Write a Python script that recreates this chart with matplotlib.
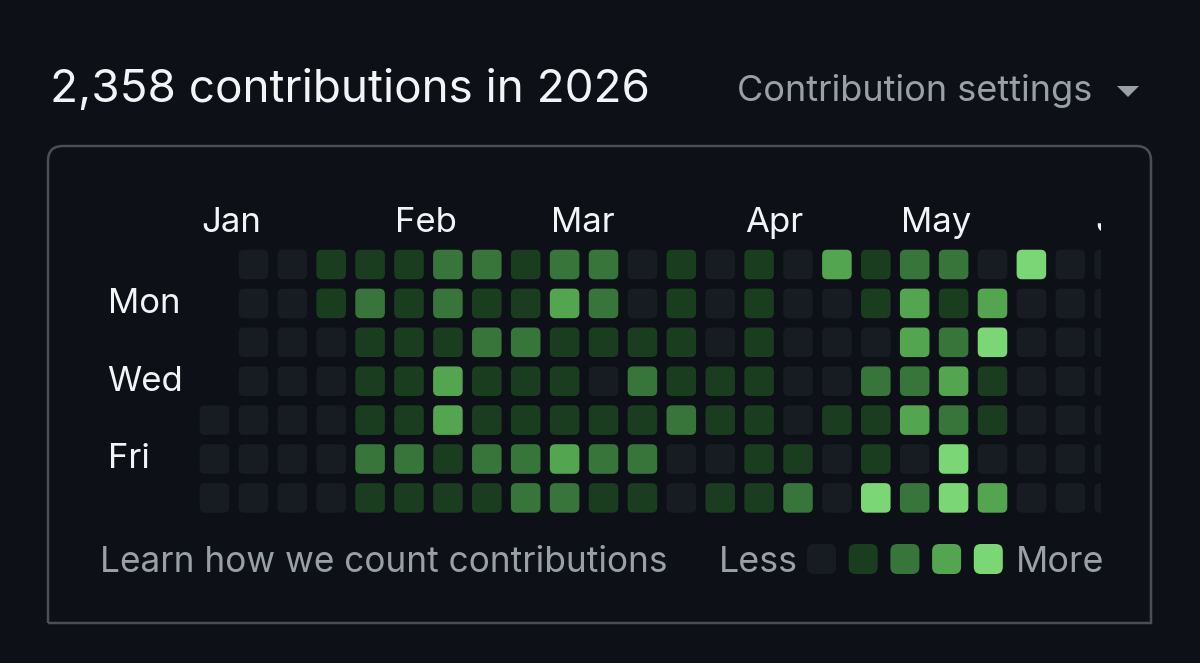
import matplotlib
matplotlib.use("Agg")
import matplotlib.pyplot as plt
from matplotlib.patches import FancyBboxPatch, PathPatch, Polygon
from matplotlib.path import Path

# ---------------- data ----------------
title_text = "2,358 contributions in 2026"
settings_text = "Contribution settings"
footer_text = "Learn how we count contributions"
day_labels = ["Mon", "Wed", "Fri"]
day_label_rows = [1, 3, 5]
month_labels = ["Jan", "Feb", "Mar", "Apr", "May", "Jun"]
month_cols = [0, 5, 9, 14, 18, 23]

# contribution level (0-4) per weekday row, one entry per week column; None = before Jan 1
sun = [None, 0, 0, 1, 1, 1, 2, 2, 1, 2, 2, 0, 1, 0, 1, 0, 3, 1, 2, 2, 0, 4, 0, 0]
mon = [None, 0, 0, 1, 2, 1, 2, 1, 1, 3, 2, 0, 1, 0, 1, 0, 0, 1, 3, 1, 3, 0, 0, 0]
tue = [None, 0, 0, 0, 1, 1, 1, 2, 2, 1, 1, 1, 1, 0, 1, 0, 0, 0, 3, 2, 4, 0, 0, 0]
wed = [None, 0, 0, 0, 1, 1, 3, 1, 1, 1, 0, 2, 1, 1, 1, 0, 0, 2, 2, 3, 1, 0, 0, 0]
thu = [0, 0, 0, 0, 1, 1, 3, 1, 1, 1, 1, 1, 2, 1, 1, 0, 1, 1, 3, 2, 1, 0, 0, 0]
fri = [0, 0, 0, 0, 2, 2, 1, 2, 2, 3, 2, 2, 0, 0, 1, 1, 0, 1, 0, 4, 0, 0, 0, 0]
sat = [0, 0, 0, 0, 1, 1, 1, 1, 2, 2, 1, 1, 0, 1, 1, 2, 0, 4, 2, 4, 3, 0, 0, 0]
week_rows = [sun, mon, tue, wed, thu, fri, sat]

level_colors = ["#171b22", "#1b3d1f", "#37753b", "#53a550", "#7bd676"]

# ---------------- style ----------------
BG = "#0d1017"
WHITE = "#f2f4f7"
GRAY = "#9aa0a8"
BORDER = "#4a4f57"
FONT = ["Inter", "DejaVu Sans"]

W, H = 1200, 663
fig = plt.figure(figsize=(W / 100, H / 100), dpi=100, facecolor=BG)

# overlay axes in pixel coordinates for frame and headings
ov = fig.add_axes([0, 0, 1, 1])
ov.set_xlim(0, W)
ov.set_ylim(H, 0)
ov.axis("off")
ov.set_facecolor(BG)

ov.text(50, 102, title_text, color=WHITE, fontsize=33, family=FONT, va="baseline", ha="left")
ov.text(737, 101, settings_text, color=GRAY, fontsize=26, family=FONT, va="baseline", ha="left")
ov.add_patch(Polygon([(1117, 86), (1139, 86), (1128, 97)], closed=True, color=GRAY, lw=0))

# frame: rounded top corners, square bottom corners
x0, x1, y0, y1, r = 48, 1151, 146, 623, 15
verts = [(x0, y1), (x0, y0 + r), (x0, y0), (x0 + r, y0), (x1 - r, y0), (x1, y0), (x1, y0 + r), (x1, y1), (x0, y1)]
codes = [Path.MOVETO, Path.LINETO, Path.CURVE3, Path.CURVE3, Path.LINETO, Path.CURVE3, Path.CURVE3, Path.LINETO, Path.LINETO]
ov.add_patch(PathPatch(Path(verts, codes), fill=False, edgecolor=BORDER, lw=1.8))

# footer
ov.text(100, 572, footer_text, color=GRAY, fontsize=25.4, family=FONT, va="baseline", ha="left")
ov.text(719, 572, "Less", color=GRAY, fontsize=25.8, family=FONT, va="baseline", ha="left")
ov.text(1016, 572, "More", color=GRAY, fontsize=25.8, family=FONT, va="baseline", ha="left")
legend_x0, legend_step, legend_y, legend_w, legend_h = 807, 41.7, 544, 29, 30
for i, c in enumerate(level_colors):
    ov.add_patch(FancyBboxPatch((legend_x0 + i * legend_step, legend_y), legend_w, legend_h,
                                boxstyle="round,pad=0,rounding_size=7", facecolor=c, edgecolor="none"))

# ---------------- contribution grid ----------------
col0_x, row0_y, step = 214.5, 264.5, 38.9
xmin, xmax, ymin, ymax = -0.5, 22.8, -2.0, 6.5
left_px = col0_x + xmin * step
right_px = col0_x + xmax * step
top_px = row0_y + ymin * step
bot_px = row0_y + ymax * step
ax = fig.add_axes([left_px / W, 1 - bot_px / H, (right_px - left_px) / W, (bot_px - top_px) / H])
ax.set_xlim(xmin, xmax)
ax.set_ylim(ymax, ymin)
ax.axis("off")
ax.patch.set_alpha(0)

cell = 0.76
for r_i, row in enumerate(week_rows):
    for c_i, lvl in enumerate(row):
        if lvl is None:
            continue
        ax.add_patch(FancyBboxPatch((c_i - cell / 2, r_i - cell / 2), cell, cell,
                                    boxstyle="round,pad=0,rounding_size=0.14",
                                    facecolor=level_colors[lvl], edgecolor="none", clip_on=True))

for name, col in zip(month_labels, month_cols):
    ax.text(col - cell / 2 + 0.03, -0.835, name, color=WHITE, fontsize=25, family=FONT,
            va="baseline", ha="left", clip_on=True)

for name, row in zip(day_labels, day_label_rows):
    ax.text(-2.75, row + 0.24, name, color=WHITE, fontsize=25, family=FONT,
            va="baseline", ha="left", clip_on=False)

fig.savefig("out.png", dpi=100, facecolor=BG)
